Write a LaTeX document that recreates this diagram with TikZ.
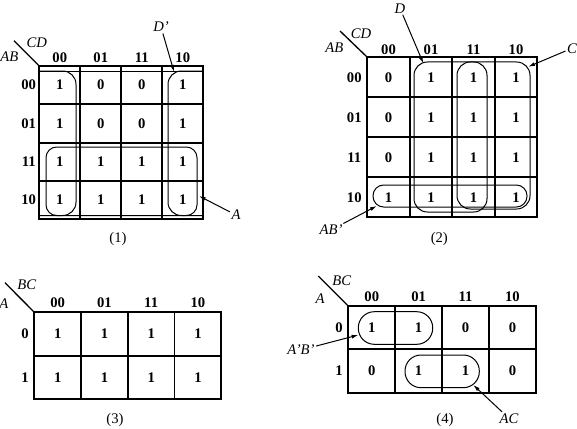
\documentclass[tikz,border=0pt]{standalone}
\usepackage{fontspec}
\setmainfont{Liberation Serif}
\usetikzlibrary{arrows.meta, positioning}

\begin{document}
\begin{tikzpicture}[
    x=0.75pt, y=-0.75pt,
    >={Latex[length=5pt, width=3pt]},
    font=\fontsize{11}{13}\selectfont,
    cell/.style={rectangle, draw, line width=1.4pt, inner sep=0pt,
                 font=\fontsize{11}{13}\selectfont\bfseries},
    hdr/.style={font=\fontsize{11}{13}\selectfont\bfseries, inner sep=1pt},
    var/.style={font=\fontsize{11}{13}\selectfont\itshape, inner sep=1pt},
    grp/.style={draw, line width=0.75pt, rounded corners=10pt},
    arr/.style={->, line width=0.75pt},
    slash/.style={line width=1pt},
    capt/.style={inner sep=1pt},
]
    \useasboundingbox (0,0) rectangle (577,428);

    % Map (1): AB \ CD
    \def\xA{39.3} \def\yA{66} \def\wA{41} \def\hA{38.3}
    \foreach \vals [count=\r] in {{1,0,0,1},{1,0,0,1},{1,1,1,1},{1,1,1,1}}
        \foreach \v [count=\c] in \vals
            \node[cell, minimum width={\wA*0.75pt}, minimum height={\hA*0.75pt}]
                (a-\r-\c) at ({\xA+(\c-0.5)*\wA}, {\yA+(\r-0.5)*\hA}) {\v};
    \foreach \t [count=\c] in {00,01,11,10}
        \node[hdr] at ({\xA+(\c-0.5)*\wA}, 57.3) {\t};
    \foreach \t [count=\r] in {00,01,11,10}
        \node[hdr] at (28.7, {\yA+(\r-0.5)*\hA}) {\t};
    \coordinate (dA) at (14,40.7);
    \draw[slash] (dA) -- (a-1-1.north west);
    \node[var] (cdA) at (36.7,42.7) {CD};
    \node[var] (abA) at (9.3,56.7) {AB};

    % groups of map (1)
    \draw[grp] (39.3,71) -- (203.3,71);
    \draw[grp] (39.3,71) -- (76,71) -- (76,215.5) -- (39.3,215.5);
    \draw[grp] (203.3,71) -- (168,71) -- (168,215.5) -- (203.3,215.5);
    \draw[grp, rounded corners=8pt] (46,147) rectangle (197,215.5);
    \coordinate (gDp) at (174,71.7);
    \coordinate (gA) at (199,196);
    \node[var] (lDp) at (161,27) {D'};
    \node[var] (lA) at (236,215) {A};
    \draw[arr] (lDp) -- (gDp);
    \draw[arr] (lA) -- (gA);
    \node[capt] (cA) at (118,239.3) {(1)};

    % Map (2): AB \ CD
    \def\xB{367.3} \def\yB{57.3} \def\wB{42.5} \def\hB{40}
    \foreach \vals [count=\r] in {{0,1,1,1},{0,1,1,1},{0,1,1,1},{1,1,1,1}}
        \foreach \v [count=\c] in \vals
            \node[cell, minimum width={\wB*0.75pt}, minimum height={\hB*0.75pt}]
                (b-\r-\c) at ({\xB+(\c-0.5)*\wB}, {\yB+(\r-0.5)*\hB}) {\v};
    \foreach \t [count=\c] in {00,01,11,10}
        \node[hdr] at ({\xB+(\c-0.5)*\wB}, 49.3) {\t};
    \foreach \t [count=\r] in {00,01,11,10}
        \node[hdr] at (354.3, {\yB+(\r-0.5)*\hB}) {\t};
    \coordinate (dB) at (340,31);
    \draw[slash] (dB) -- (b-1-1.north west);
    \node[var] (cdB) at (361,33.3) {CD};
    \node[var] (abB) at (334.3,47.7) {AB};

    % groups of map (2)
    \draw[grp] (414,62) rectangle (487,212);
    \draw[grp] (457,62) rectangle (530,209);
    \draw[grp, rounded corners=8pt] (373,185) rectangle (527,207);
    \coordinate (gD) at (423.3,63.3);
    \coordinate (gC) at (528.3,66.7);
    \coordinate (gABp) at (376.7,206);
    \node[var] (lD) at (400,8.3) {D};
    \node[var] (lC) at (572,48.3) {C};
    \node[var] (lABp) at (331,230) {AB'};
    \draw[arr] (lD) -- (gD);
    \draw[arr] (lC) -- (gC);
    \draw[arr] (lABp) -- (gABp);
    \node[capt] (cB) at (439.3,239.3) {(2)};

    % Map (3): A \ BC
    \def\xC{34.3} \def\yC{312.3} \def\wC{46.75} \def\hC{43.35}
    \foreach \vals [count=\r] in {{1,1,1,1},{1,1,1,1}}
        \foreach \v [count=\c] in \vals
            \node[cell, minimum width={\wC*0.75pt}, minimum height={\hC*0.75pt}]
                (c-\r-\c) at ({\xC+(\c-0.5)*\wC}, {\yC+(\r-0.5)*\hC}) {\v};
    \foreach \t [count=\c] in {00,01,11,10}
        \node[hdr] at ({\xC+(\c-0.5)*\wC}, 302.7) {\t};
    \foreach \t [count=\r] in {0,1}
        \node[hdr] at (25, {\yC+(\r-0.5)*\hC}) {\t};
    \coordinate (dC) at (5,282.7);
    \draw[slash] (dC) -- (c-1-1.north west);
    \node[var] (bcC) at (26.7,285) {BC};
    \node[var] (aC) at (3.8,303.3) {A};
    \node[capt] (cC) at (115,420) {(3)};

    % Map (4): A \ BC
    \def\xD{348.3} \def\yD{306} \def\wD{46.9} \def\hD{43.35}
    \foreach \vals [count=\r] in {{1,1,0,0},{0,1,1,0}}
        \foreach \v [count=\c] in \vals
            \node[cell, minimum width={\wD*0.75pt}, minimum height={\hD*0.75pt}]
                (d-\r-\c) at ({\xD+(\c-0.5)*\wD}, {\yD+(\r-0.5)*\hD}) {\v};
    \foreach \t [count=\c] in {00,01,11,10}
        \node[hdr] at ({\xD+(\c-0.5)*\wD}, 296.7) {\t};
    \foreach \t [count=\r] in {0,1}
        \node[hdr] at (339, {\yD+(\r-0.5)*\hD}) {\t};
    \coordinate (dD) at (318.3,276);
    \draw[slash] (dD) -- (d-1-1.north west);
    \node[var] (bcD) at (341.7,280.7) {BC};
    \node[var] (aD) at (320,298.3) {A};

    % groups of map (4)
    \draw[grp, rounded corners=12pt] (358.3,311.7) rectangle (432.7,344.3);
    \draw[grp, rounded corners=12pt] (405,355) rectangle (479.3,387.7);
    \coordinate (gApBp) at (358.3,335);
    \coordinate (gAC) at (473.3,385);
    \node[var] (lApBp) at (301,350) {A'B'};
    \node[var] (lAC) at (509,418.3) {AC};
    \draw[arr] (lApBp) -- (gApBp);
    \draw[arr] (lAC) -- (gAC);
    \node[capt] (cD) at (445,420) {(4)};
\end{tikzpicture}
\end{document}
